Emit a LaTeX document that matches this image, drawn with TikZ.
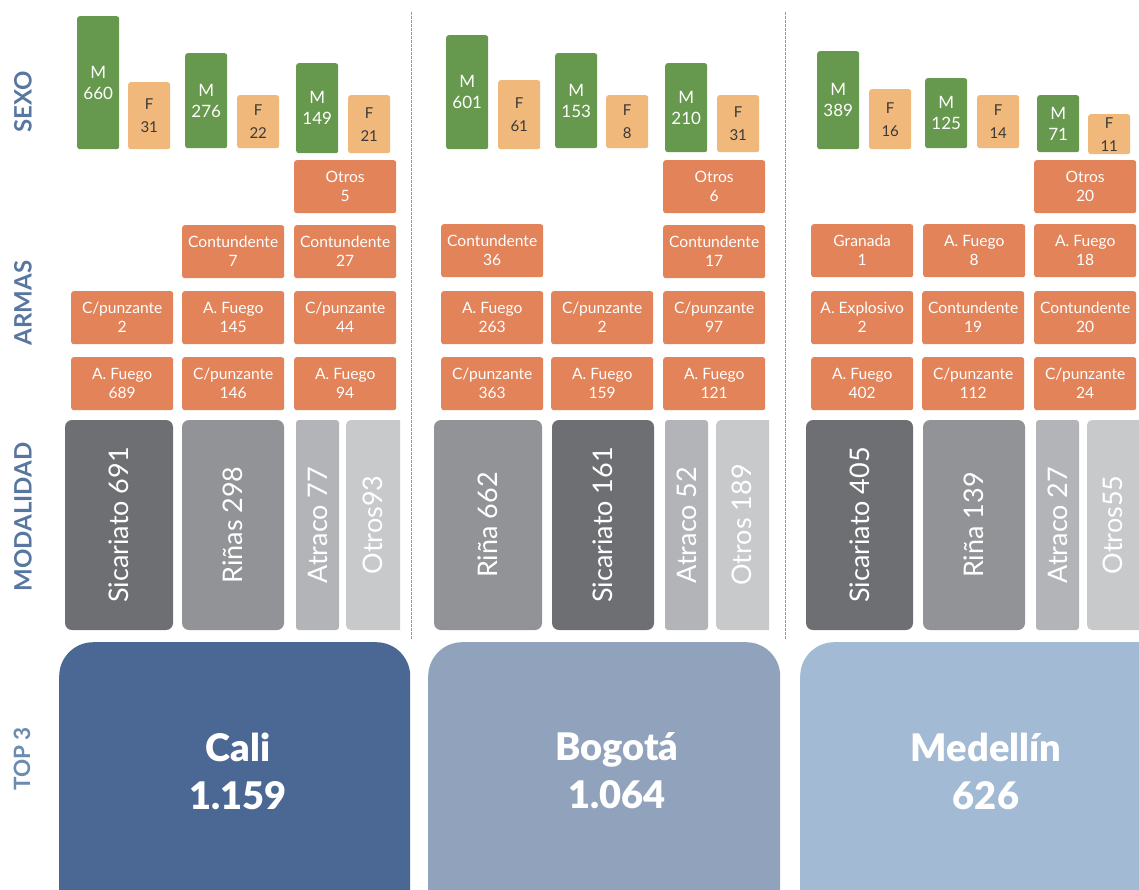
\documentclass[tikz,border=0pt]{standalone}
\usepackage{fontspec}
\setmainfont{Lato}
\newfontfamily\heavyfont{Lato Black}

\definecolor{barM}{HTML}{66994D}
\definecolor{barF}{HTML}{F0B87A}
\definecolor{ink}{HTML}{3A3A3A}
\definecolor{weapon}{HTML}{E2835A}
\definecolor{grayA}{HTML}{6E6F73}
\definecolor{grayB}{HTML}{929397}
\definecolor{grayC}{HTML}{B3B4B7}
\definecolor{grayD}{HTML}{C8C9CB}
\definecolor{caliblue}{HTML}{4A6893}
\definecolor{bogblue}{HTML}{91A3BC}
\definecolor{medblue}{HTML}{A2BAD4}
\definecolor{rowlbl}{HTML}{5877A0}
\definecolor{toplbl}{HTML}{6C8BB0}
\definecolor{divgray}{HTML}{9A9A9A}

\tikzset{
  cell/.style={rectangle, rounded corners=2.5pt, inner sep=0pt,
    anchor=north west, align=center, text=white},
  male/.style={cell, fill=barM, minimum width=42pt,
    font=\fontsize{17}{21}\selectfont},
  female/.style={cell, fill=barF, minimum width=42pt, text=ink,
    font=\fontsize{15}{23}\selectfont},
  arma/.style={cell, fill=weapon, minimum width=102pt, minimum height=53pt,
    font=\fontsize{15.6}{19}\selectfont},
  modebox/.style={rectangle, rounded corners=7pt, inner sep=0pt, rotate=90,
    minimum width=210pt, text=white, font=\fontsize{27}{30}\selectfont},
  modetext/.style={rotate=90, inner sep=0pt, text=white,
    font=\fontsize{27}{30}\selectfont},
  citybox/.style={rectangle, rounded corners=34pt, inner sep=0pt,
    anchor=north west, minimum height=320pt},
  cityname/.style={align=center, text=white,
    font=\fontsize{38}{48}\selectfont\heavyfont},
  rowname/.style={rotate=90, text=rowlbl, font=\fontsize{24}{28}\selectfont\bfseries},
  divider/.style={draw=divgray, line width=0.7pt, dash pattern=on 2.5pt off 1.5pt}
}

\begin{document}
\begin{tikzpicture}[x=1pt, y=-1pt]
  \clip (0,0) rectangle (1139,889);

  % row names
  \node[rowname] (lblSexo) at (23,102) {SEXO};
  \node[rowname] (lblArmas) at (23,303) {ARMAS};
  \node[rowname] (lblModa) at (23,517) {MODALIDAD};
  \node[rowname, text=toplbl, font=\fontsize{22.5}{26}\selectfont\bfseries] (lblTop) at (22,759) {TOP 3};

  % column dividers
  \coordinate (divAtop) at (411,12);
  \coordinate (divAbot) at (411,640);
  \coordinate (divBtop) at (785,12);
  \coordinate (divBbot) at (785,640);
  \draw[divider] (divAtop) -- (divAbot);
  \draw[divider] (divBtop) -- (divBbot);

  %%% Cali
  \node[male, minimum height=133pt] (caliM1) at (77,16) {M\\660};
  \node[female, minimum height=67pt] (caliF1) at (128,82) {F\\31};
  \node[male, minimum height=95pt] (caliM2) at (185,53) {M\\276};
  \node[female, minimum height=53pt] (caliF2) at (237,95) {F\\22};
  \node[male, minimum height=90pt] (caliM3) at (296,63) {M\\149};
  \node[female, minimum height=58pt] (caliF3) at (348,95) {F\\21};

  \node[arma] (caliA03) at (294,160) {Otros\\5};
  \node[arma] (caliA12) at (182,225) {Contundente\\7};
  \node[arma] (caliA13) at (294,225) {Contundente\\27};
  \node[arma] (caliA21) at (71,291) {C/punzante\\2};
  \node[arma] (caliA22) at (182,291) {A. Fuego\\145};
  \node[arma] (caliA23) at (294,291) {C/punzante\\44};
  \node[arma] (caliA31) at (71,357) {A. Fuego\\689};
  \node[arma] (caliA32) at (182,357) {C/punzante\\146};
  \node[arma] (caliA33) at (294,357) {A. Fuego\\94};

  \node[modebox, fill=grayA, minimum height=108pt] (caliSic) at (119,525) {Sicariato 691};
  \node[modebox, fill=grayB, minimum height=102pt] (caliRin) at (233,525) {Riñas 298};
  \node[modebox, fill=grayC, minimum height=43pt, rounded corners=3pt] (caliAtr) at (317.5,525) {Atraco 77};
  \fill[grayD] (400,420) [rounded corners=5pt] -- (346,420) -- (346,630) [sharp corners] -- (400,630) -- cycle;
  \node[modetext] (caliOtr) at (373,525) {Otros93};

  \node[citybox, fill=caliblue, minimum width=351pt] (caliBox) at (59,642) {};
  \node[cityname] (caliName) at (238,771) {Cali\\1.159};

  %%% Bogota
  \node[male, minimum height=114pt] (bogM1) at (446,35) {M\\601};
  \node[female, minimum height=69pt] (bogF1) at (498,80) {F\\61};
  \node[male, minimum height=95pt] (bogM2) at (555,53) {M\\153};
  \node[female, minimum height=53pt] (bogF2) at (606,95) {F\\8};
  \node[male, minimum height=89pt] (bogM3) at (665,63) {M\\210};
  \node[female, minimum height=57pt] (bogF3) at (717,95) {F\\31};

  \node[arma] (bogA03) at (663,160) {Otros\\6};
  \node[arma] (bogA11) at (441,224) {Contundente\\36};
  \node[arma] (bogA13) at (663,225) {Contundente\\17};
  \node[arma] (bogA21) at (441,291) {A. Fuego\\263};
  \node[arma] (bogA22) at (551,291) {C/punzante\\2};
  \node[arma] (bogA23) at (663,291) {C/punzante\\97};
  \node[arma] (bogA31) at (441,357) {C/punzante\\363};
  \node[arma] (bogA32) at (551,357) {A. Fuego\\159};
  \node[arma] (bogA33) at (663,357) {A. Fuego\\121};

  \node[modebox, fill=grayB, minimum height=108pt] (bogRin) at (488,525) {Riña 662};
  \node[modebox, fill=grayA, minimum height=102pt] (bogSic) at (603,525) {Sicariato 161};
  \node[modebox, fill=grayC, minimum height=43pt, rounded corners=3pt] (bogAtr) at (686.5,525) {Atraco 52};
  \fill[grayD] (769,420) [rounded corners=5pt] -- (716,420) -- (716,630) [sharp corners] -- (769,630) -- cycle;
  \node[modetext] (bogOtr) at (742,525) {Otros 189};

  \node[citybox, fill=bogblue, minimum width=352pt] (bogBox) at (428,642) {};
  \node[cityname] (bogName) at (617,771) {Bogotá\\1.064};

  %%% Medellin
  \node[male, minimum height=98pt] (medM1) at (817,51) {M\\389};
  \node[female, minimum height=60pt] (medF1) at (869,89) {F\\16};
  \node[male, minimum height=70pt] (medM2) at (925,78) {M\\125};
  \node[female, minimum height=53pt] (medF2) at (977,95) {F\\14};
  \node[male, minimum height=57pt] (medM3) at (1037,95) {M\\71};
  \node[female, minimum height=40pt] (medF3) at (1088,114) {F\\11};

  \node[arma] (medA03) at (1034,160) {Otros\\20};
  \node[arma] (medA11) at (811,224) {Granada\\1};
  \node[arma] (medA12) at (923,224) {A. Fuego\\8};
  \node[arma] (medA13) at (1034,224) {A. Fuego\\18};
  \node[arma] (medA21) at (811,291) {A. Explosivo\\2};
  \node[arma] (medA22) at (922,291) {Contundente\\19};
  \node[arma] (medA23) at (1034,291) {Contundente\\20};
  \node[arma] (medA31) at (811,357) {A. Fuego\\402};
  \node[arma] (medA32) at (922,357) {C/punzante\\112};
  \node[arma] (medA33) at (1034,357) {C/punzante\\24};

  \node[modebox, fill=grayA, minimum height=107pt] (medSic) at (859.5,525) {Sicariato 405};
  \node[modebox, fill=grayB, minimum height=102pt] (medRin) at (974,525) {Riña 139};
  \node[modebox, fill=grayC, minimum height=43pt, rounded corners=3pt] (medAtr) at (1057.5,525) {Atraco 27};
  \fill[grayD] (1145,420) [rounded corners=5pt] -- (1087,420) -- (1087,630) [sharp corners] -- (1145,630) -- cycle;
  \node[modetext] (medOtr) at (1113,525) {Otros55};

  \node[citybox, fill=medblue, minimum width=380pt] (medBox) at (800,642) {};
  \node[cityname] (medName) at (986,771) {Medellín\\626};
\end{tikzpicture}
\end{document}
